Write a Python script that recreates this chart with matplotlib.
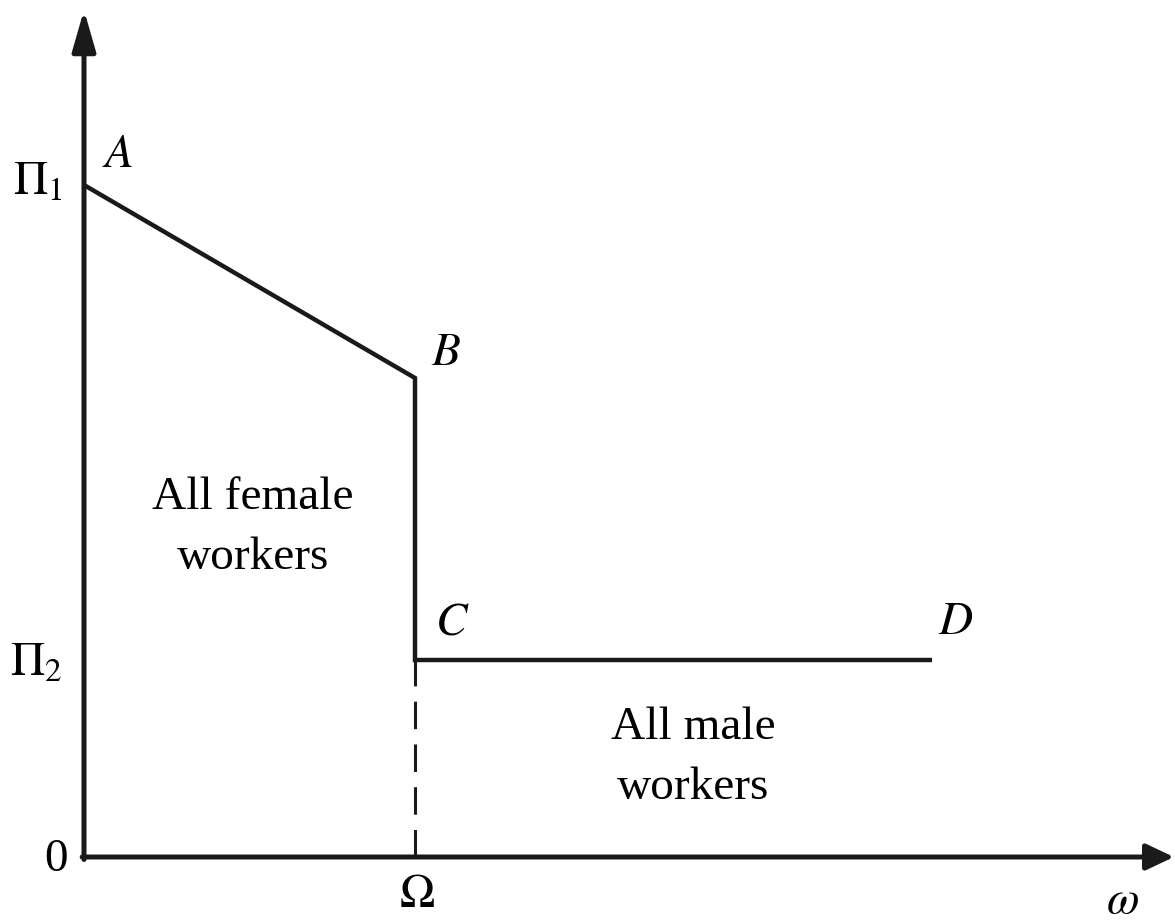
import matplotlib.pyplot as plt

plt.rcParams['font.family'] = ['Liberation Serif', 'DejaVu Serif']
plt.rcParams['mathtext.fontset'] = 'stix'

# kinked profit schedule A-B-C-D (units: omega on x, profit on y)
omega_pts = [0.0, 3.31, 3.31, 8.48]
profit_pts = [6.72, 4.79, 1.97, 1.97]
point_names = ['A', 'B', 'C', 'D']
omega_cut = 3.31
pi1, pi2 = 6.72, 1.97

fig = plt.figure(figsize=(11.75, 9.22), dpi=100)
ax = fig.add_axes([0, 0, 1, 1])
ax.set_xlim(-0.84, 10.91)
ax.set_ylim(-0.65, 8.57)
ax.axis('off')

# axes with arrows
ink = '#1a1a1a'
ax.annotate('', xy=(0, 8.47), xytext=(0, -0.025),
            arrowprops=dict(arrowstyle='-|>,head_length=2.5,head_width=0.72',
                            lw=3.6, color=ink, shrinkA=0, shrinkB=0,
                            mutation_scale=10))
ax.annotate('', xy=(10.90, 0), xytext=(-0.018, 0),
            arrowprops=dict(arrowstyle='-|>,head_length=1.7,head_width=0.8',
                            lw=3.6, color=ink, shrinkA=0, shrinkB=0,
                            mutation_scale=10))

# schedule
ax.plot(omega_pts, profit_pts, color=ink, lw=3.2, solid_joinstyle='miter',
        solid_capstyle='butt')
ax.plot([omega_cut, omega_cut], [0, pi2], color=ink, lw=2.2,
        linestyle=(0, (9, 5)))

fs = 34
# point labels
offsets = [(0.34, 0.29), (0.31, 0.24), (0.37, 0.37), (0.24, 0.37)]
for name, x, y, (dx, dy) in zip(point_names, omega_pts, profit_pts, offsets):
    ax.text(x + dx, y + dy, '$\\mathit{' + name + '}$', fontsize=fs,
            ha='center', va='center')

# tick labels
ax.text(-0.21, pi1 + 0.02, r'$\Pi_1$', fontsize=fs, ha='right', va='center')
ax.text(-0.21, pi2 - 0.04, r'$\Pi_2$', fontsize=fs, ha='right', va='center')
ax.text(-0.28, -0.03, '0', fontsize=fs, ha='center', va='center')
ax.text(omega_cut + 0.02, -0.39, r'$\Omega$', fontsize=fs, ha='center', va='center')
ax.text(10.38, -0.45, r'$\omega$', fontsize=fs, ha='center', va='center')

# region labels
ax.text(1.69, 3.29, 'All female\nworkers', fontsize=fs, ha='center', va='center',
        linespacing=1.55)
ax.text(6.09, 0.99, 'All male\nworkers', fontsize=fs, ha='center', va='center',
        linespacing=1.55)

fig.savefig('out.png', dpi=100)
